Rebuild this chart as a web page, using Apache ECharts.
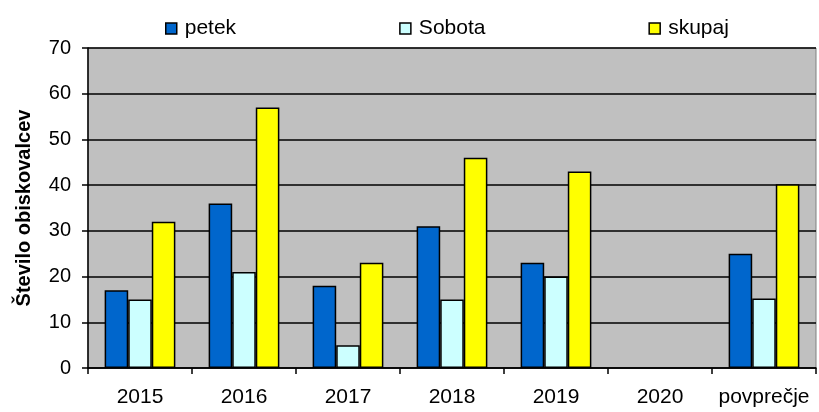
<!DOCTYPE html>
<html><head><meta charset="utf-8">
<script src="https://cdn.jsdelivr.net/npm/echarts@6/dist/echarts.min.js"></script>
<style>html,body{margin:0;padding:0;background:#fff}#c{width:819px;height:412px}</style>
</head><body><div id="c"></div>
<script>
const categories = ['2015','2016','2017','2018','2019','2020','povprečje'];
const petek = [17, 36, 18, 31, 23, null, 25];
const sobota = [15, 21, 5, 15, 20, null, 15.2];
const skupaj = [32, 57, 23, 46, 43, null, 40.2];
const seriesNames = ['petek','Sobota','skupaj'];
const yTicks = [0,10,20,30,40,50,60,70];

const font = '"Liberation Sans", Arial, sans-serif';
const colors = ['#0066CC','#CCFFFF','#FFFF00'];
const chart = echarts.init(document.getElementById('c'));
const mk = (name, data, color) => ({
  name, type:'bar', data, barGap:'0%', barCategoryGap:'32%',
  itemStyle:{color, borderColor:'#000', borderWidth:1.5}
});
chart.setOption({
  animation:false,
  textStyle:{fontFamily:font},
  legend:{
    top:13, left:160, itemGap:163, itemWidth:11, itemHeight:11,
    icon:'rect',
    textStyle:{fontSize:21, color:'#000', fontFamily:font, padding:[0,0,0,3]},
    itemStyle:{borderColor:'#000', borderWidth:1.5},
    data:seriesNames
  },
  grid:{left:88, right:3, top:48, bottom:44, show:true, backgroundColor:'#C0C0C0', borderColor:'#808080', borderWidth:1},
  xAxis:{
    type:'category', data:categories,
    axisLine:{lineStyle:{color:'#000', width:1.5}},
    axisTick:{show:true, interval:0, length:6, lineStyle:{color:'#000', width:1.5}},
    axisLabel:{interval:0, fontSize:21, color:'#000', margin:19, fontFamily:font}
  },
  yAxis:{
    type:'value', min:yTicks[0], max:yTicks[yTicks.length-1], interval:10,
    name:'Število obiskovalcev', nameLocation:'middle', nameGap:54,
    nameTextStyle:{fontSize:20, fontWeight:'bold', color:'#000', fontFamily:font},
    axisLine:{show:true, lineStyle:{color:'#000', width:1.5}},
    axisTick:{show:true, length:6, lineStyle:{color:'#000', width:1.5}},
    axisLabel:{fontSize:20, color:'#000', margin:17, fontFamily:font},
    splitLine:{show:true, lineStyle:{color:'#000', width:1.5}}
  },
  series:[mk(seriesNames[0], petek, colors[0]), mk(seriesNames[1], sobota, colors[1]), mk(seriesNames[2], skupaj, colors[2])]
});
</script></body></html>
